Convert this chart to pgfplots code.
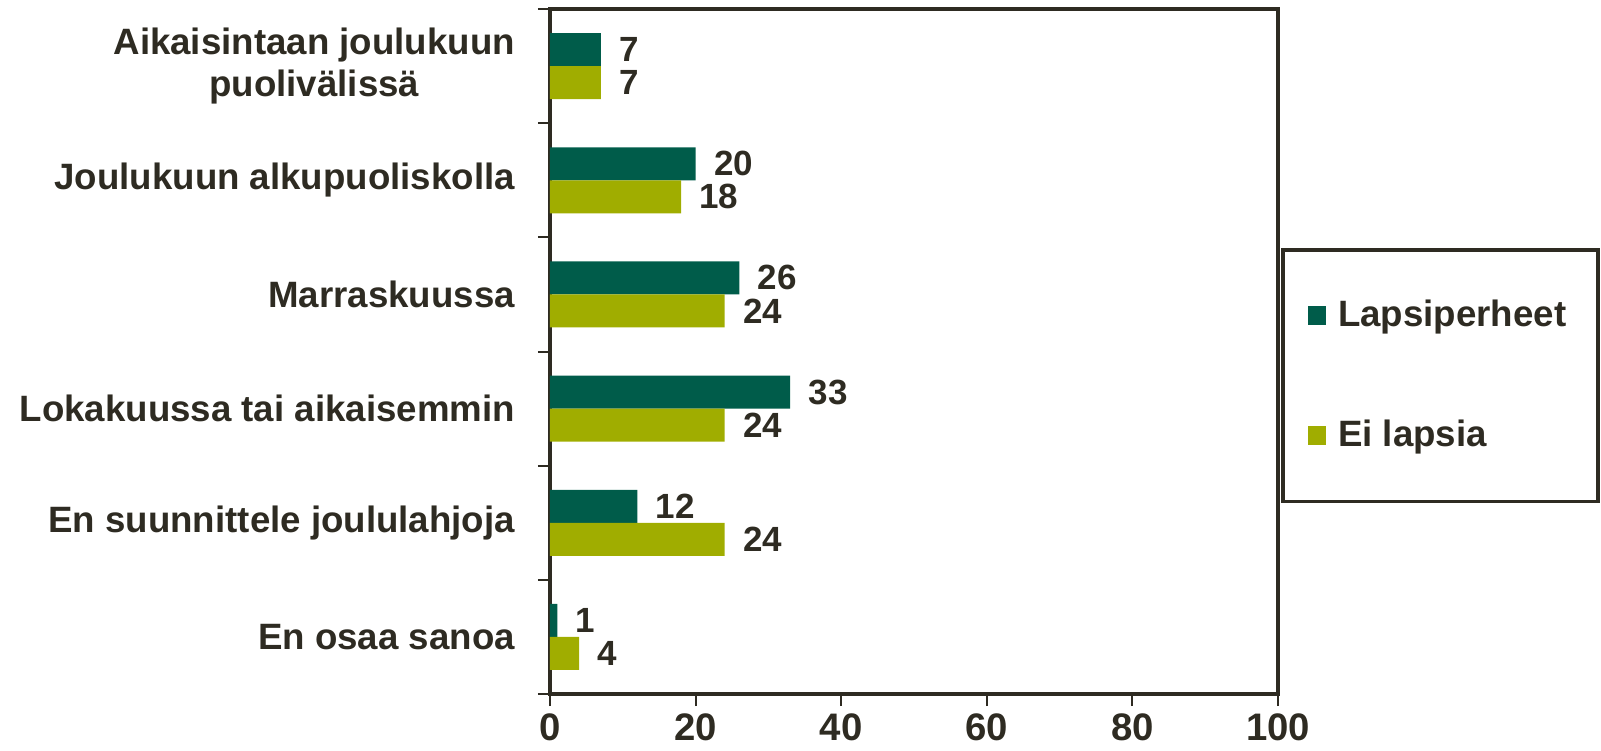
\documentclass[border=0pt]{standalone}
\usepackage{fontspec}
\setmainfont{Liberation Sans}
\usepackage{pgfplots}
\pgfplotsset{compat=1.18}
\definecolor{dkgreen}{RGB}{0,92,74}
\definecolor{olive}{RGB}{160,173,0}
\definecolor{txt}{RGB}{46,43,34}
\begin{document}
\begin{tikzpicture}
\useasboundingbox (-165pt,-17.1pt) rectangle (315.3pt,208.2pt);
\begin{axis}[
  at={(0,0)}, anchor=south west,
  width=218.4pt, height=205.5pt, scale only axis,
  xbar, bar width=9.9pt,
  xmin=0, xmax=100, ymin=-0.5, ymax=5.5,
  xtick={0,20,...,100},
  ytick={0,1,2,3,4,5},
  yticklabels={En osaa sanoa, En suunnittele joululahjoja, Lokakuussa tai aikaisemmin, Marraskuussa, Joulukuun alkupuoliskolla, {Aikaisintaan joulukuun\\puolivälissä}},
  minor ytick={-0.5,0.5,...,5.5},
  major tick length=0pt,
  minor tick length=3.6pt,
  extra x ticks={0,20,...,100}, extra x tick labels={},
  extra x tick style={major tick length=3.6pt, tick align=outside, tick style={txt, line width=0.6pt}},
  tick align=outside,
  xtick pos=bottom, ytick pos=left,
  tick style={txt, line width=0.6pt},
  minor tick style={txt, line width=0.6pt},
  axis line style={txt, line width=1pt},
  yticklabel style={align=center, font=\fontsize{11pt}{12.5pt}\selectfont\bfseries, text=txt, xshift=-7pt},
  xticklabel style={font=\fontsize{11.5pt}{13pt}\selectfont\bfseries, text=txt, yshift=-2.5pt},
  /pgf/number format/assume math mode=true,
  nodes near coords,
  every node near coord/.append style={font=\fontsize{10.5pt}{12pt}\selectfont\bfseries, text=txt, xshift=2pt},
  legend style={at={(rel axis cs:1.004,0.651)}, anchor=north west, draw=txt, line width=1.1pt,
    font=\fontsize{11pt}{13pt}\selectfont\bfseries, text=txt, row sep=22.5pt,
    inner xsep=7.5pt, inner ysep=13pt},
  legend cell align=left,
]
\addplot[fill=dkgreen, draw=none, bar shift=4.95pt,
  legend image code/.code={\fill[dkgreen] (0pt,-2.8pt) rectangle (5.6pt,2.8pt);}]
  coordinates {(1,0) (12,1) (33,2) (26,3) (20,4) (7,5)};
\addplot[fill=olive, draw=none, bar shift=-4.95pt,
  legend image code/.code={\fill[olive] (0pt,-2.8pt) rectangle (5.6pt,2.8pt);}]
  coordinates {(4,0) (24,1) (24,2) (24,3) (18,4) (7,5)};
\legend{\hspace{1.5pt}Lapsiperheet, \hspace{1.5pt}Ei lapsia}
\end{axis}
\end{tikzpicture}
\end{document}
